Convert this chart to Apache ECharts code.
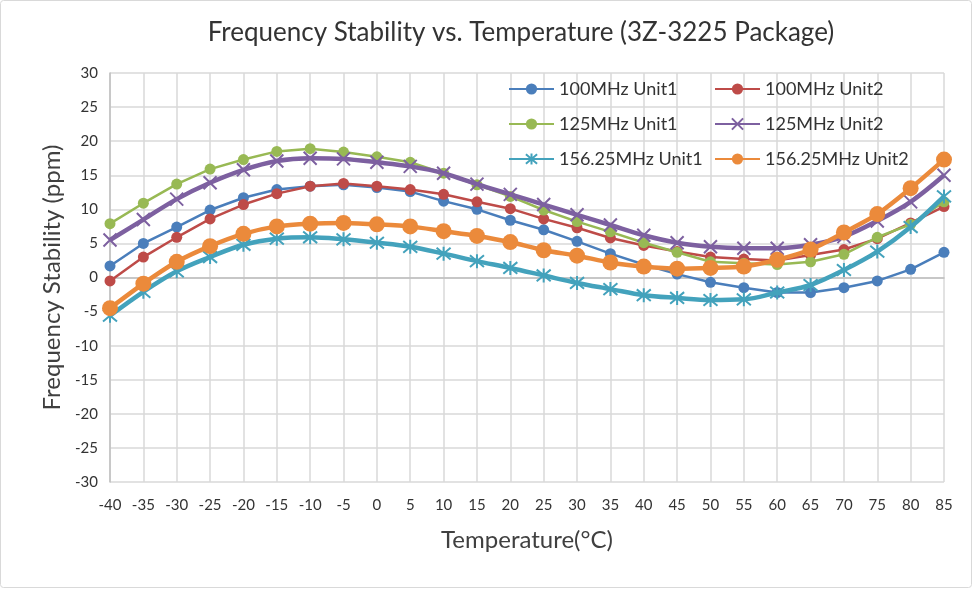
<!DOCTYPE html>
<html>
<head>
<meta charset="utf-8">
<script src="https://cdn.jsdelivr.net/npm/echarts@6/dist/echarts.min.js"></script>
<style>html,body{margin:0;padding:0;background:#fff}#c{width:977px;height:590px}</style>
</head>
<body>
<div id="c"></div>
<script>
var temps = ['-40','-35','-30','-25','-20','-15','-10','-5','0','5','10','15','20','25','30','35','40','45','50','55','60','65','70','75','80','85'];
var yTicks = {min: -30, max: 30, interval: 5};
var seriesNames = ['100MHz Unit1','100MHz Unit2','125MHz Unit1','125MHz Unit2','156.25MHz Unit1','156.25MHz Unit2'];
var u100_1 = [1.7,5.0,7.4,9.9,11.7,12.9,13.4,13.6,13.2,12.6,11.2,10.0,8.4,7.0,5.3,3.5,1.9,0.5,-0.7,-1.5,-2.2,-2.2,-1.5,-0.5,1.2,3.7];
var u100_2 = [-0.5,3.0,5.9,8.6,10.7,12.3,13.4,13.8,13.4,12.9,12.2,11.1,10.1,8.6,7.3,5.8,4.7,3.8,3.0,2.7,2.5,3.3,4.1,5.7,8.0,10.4];
var u125_1 = [7.9,10.9,13.7,15.9,17.3,18.5,18.9,18.4,17.7,16.9,15.3,13.6,11.9,9.9,8.2,6.7,5.1,3.7,2.3,2.1,1.9,2.3,3.4,5.9,7.8,11.1];
var u125_2 = [5.5,8.5,11.5,13.9,15.8,17.1,17.5,17.4,16.9,16.3,15.3,13.7,12.2,10.7,9.2,7.7,6.2,5.1,4.5,4.3,4.3,4.8,6.0,8.3,11.1,15.0];
var u156_1 = [-5.6,-2.1,0.9,3.0,4.8,5.7,5.9,5.6,5.1,4.5,3.5,2.4,1.4,0.3,-0.8,-1.7,-2.6,-3.0,-3.3,-3.2,-2.2,-1.1,1.1,3.8,7.4,11.9];
var u156_2 = [-4.5,-0.9,2.3,4.6,6.4,7.5,7.9,8.0,7.8,7.5,6.8,6.1,5.2,4.0,3.2,2.2,1.6,1.3,1.4,1.6,2.6,4.1,6.6,9.3,13.1,17.3];

var FONT = 'Lato, "Noto Sans", sans-serif';
var colors = ['#4A7EBB','#BE4B48','#98B954','#7D60A0','#43A2BC','#EB8A3B'];
var xPath = 'path://M0,0L10,10M10,0L0,10';
var starPath = 'path://M0,0L10,10M10,0L0,10M5,-1L5,11';

function mk(i, data, opt) {
  return {
    name: seriesNames[i], type: 'line', data: data,
    symbol: opt.symbol, symbolSize: opt.size, smooth: opt.smooth || false,
    lineStyle: {color: colors[i], width: opt.lw},
    itemStyle: {color: colors[i], borderColor: colors[i], borderWidth: opt.bw || 0},
    z: 2 + i, emphasis: {disabled: true}, animation: false
  };
}

var series = [
  mk(0, u100_1, {symbol: 'circle', size: 11, lw: 2.5}),
  mk(1, u100_2, {symbol: 'circle', size: 11, lw: 2.5}),
  mk(2, u125_1, {symbol: 'circle', size: 11, lw: 2.5}),
  mk(3, u125_2, {symbol: xPath, size: 13, lw: 4.5, bw: 2, smooth: 0.35}),
  mk(4, u156_1, {symbol: starPath, size: 14, lw: 4.5, bw: 2, smooth: 0.35}),
  mk(5, u156_2, {symbol: 'circle', size: 16, lw: 4.5, smooth: 0.25})
];

var legPos = [[508,80],[714,80],[508,115],[714,115],[508,150],[714,150]];
var legends = seriesNames.map(function(n, i){
  return {
    data: [n], left: legPos[i][0], top: legPos[i][1], orient: 'horizontal', padding: 0,
    itemWidth: 45, itemHeight: 14, itemGap: 5, selectedMode: false,
    textStyle: {fontFamily: FONT, fontSize: 18, color: '#333333'}
  };
});

var chart = echarts.init(document.getElementById('c'), null, {renderer: 'canvas'});
chart.setOption({
  animation: false,
  backgroundColor: '#ffffff',
  title: {
    text: 'Frequency Stability vs. Temperature (3Z-3225 Package)',
    left: 521, top: 20, textAlign: 'center', padding: 0,
    textStyle: {fontFamily: FONT, fontSize: 26, fontWeight: 'normal', color: '#333333'}
  },
  legend: legends,
  grid: {left: 110, right: 33, top: 73, bottom: 108, containLabel: false},
  xAxis: {
    type: 'category', data: temps, boundaryGap: false,
    name: 'Temperature(°C)', nameLocation: 'middle', nameGap: 46,
    nameTextStyle: {fontFamily: FONT, fontSize: 24, color: '#404040'},
    axisLine: {lineStyle: {color: '#bfbfbf', width: 1.5}},
    axisTick: {show: false},
    axisLabel: {fontFamily: FONT, fontSize: 15, color: '#333333', margin: 16},
    splitLine: {show: true, lineStyle: {color: '#d9d9d9', width: 1.5}}
  },
  yAxis: {
    type: 'value', min: yTicks.min, max: yTicks.max, interval: yTicks.interval,
    name: 'Frequency Stability (ppm)', nameLocation: 'middle', nameGap: 46,
    nameTextStyle: {fontFamily: FONT, fontSize: 24, color: '#404040'},
    axisLine: {show: true, lineStyle: {color: '#bfbfbf', width: 1.5}},
    axisTick: {show: false},
    axisLabel: {fontFamily: FONT, fontSize: 15, color: '#333333', margin: 12},
    splitLine: {show: true, lineStyle: {color: '#d9d9d9', width: 1.5}}
  },
  graphic: [{
    type: 'rect', shape: {x: 0.5, y: 0.5, width: 971, height: 587, r: 3},
    style: {fill: 'none', stroke: '#d9d9d9', lineWidth: 1}, silent: true, z: -1
  }],
  series: series
});
</script>
</body>
</html>
